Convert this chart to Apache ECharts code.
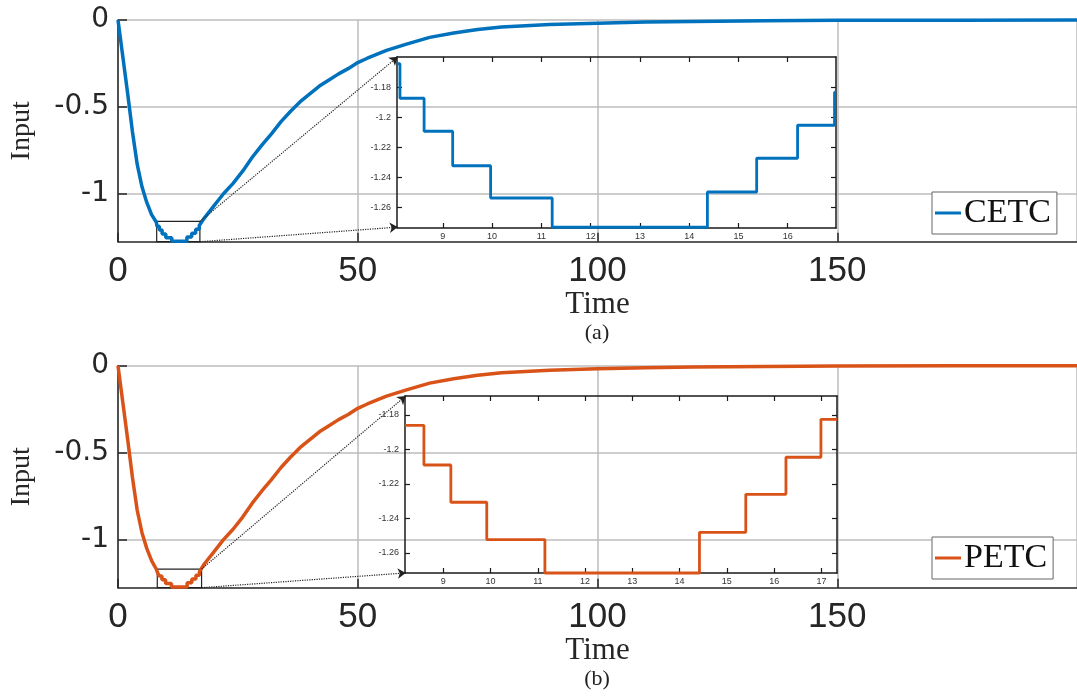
<!DOCTYPE html>
<html>
<head>
<meta charset="utf-8">
<script src="https://cdn.jsdelivr.net/npm/echarts@6/dist/echarts.min.js"></script>
<style>
  html, body { margin: 0; padding: 0; background: #fff; }
  #chart { width: 1077px; height: 696px; }
</style>
</head>
<body>
<div id="chart"></div>
<script>
// main curves (time / input)
const cetcT = [0, 1, 2, 3, 4, 5, 6, 7, 8, 18, 20, 22, 24, 26, 28, 30, 32, 34, 36, 38, 40, 42, 44, 46, 48, 50, 52, 56, 60, 65, 70, 75, 80, 90, 100, 110, 120, 135, 150, 175, 200]
const cetcV = [0, -0.21, -0.42, -0.64, -0.83, -0.96, -1.05, -1.12, -1.164, -1.14, -1.07, -1.0, -0.94, -0.87, -0.79, -0.72, -0.655, -0.585, -0.525, -0.47, -0.425, -0.38, -0.345, -0.31, -0.28, -0.245, -0.22, -0.175, -0.14, -0.1, -0.075, -0.055, -0.04, -0.026, -0.018, -0.012, -0.008, -0.004, -0.002, -0.001, 0]
const petcT = [0, 1, 2, 3, 4, 5, 6, 7, 8, 18, 20, 22, 24, 26, 28, 30, 32, 34, 36, 38, 40, 42, 44, 46, 48, 50, 52, 56, 60, 65, 70, 75, 80, 90, 100, 110, 120, 135, 150, 175, 200]
const petcV = [0, -0.21, -0.42, -0.64, -0.83, -0.96, -1.05, -1.12, -1.17, -1.14, -1.07, -1.0, -0.94, -0.87, -0.79, -0.72, -0.655, -0.585, -0.525, -0.47, -0.425, -0.38, -0.345, -0.31, -0.28, -0.245, -0.22, -0.175, -0.14, -0.1, -0.075, -0.055, -0.04, -0.026, -0.018, -0.012, -0.008, -0.004, -0.002, -0.001, 0]

// held input values around the minimum (switch time / value), shown in the insets
const cetcStepT = [8.07, 8.13, 8.62, 9.2, 9.97, 11.22, 14.37, 15.37, 16.2, 16.95]
const cetcStepV = [-1.164, -1.187, -1.209, -1.232, -1.2535, -1.273, -1.2495, -1.227, -1.205, -1.183]
const petcStepT = [8.19, 8.59, 9.16, 9.92, 11.15, 14.42, 15.4, 16.25, 16.99]
const petcStepV = [-1.186, -1.209, -1.2306, -1.2522, -1.2716, -1.248, -1.226, -1.2045, -1.1825]

// tick labels
const mainYTicks = [-1, -0.5, 0]
const insetXTicksA = [9, 10, 11, 12, 13, 14, 15, 16]
const insetXTicksB = [9, 10, 11, 12, 13, 14, 15, 16, 17]
const insetYTicks = [-1.26, -1.24, -1.22, -1.2, -1.18]

// inset windows [tMin, tMax, vMin, vMax]
const winA = [8.07, 16.98, -1.2735, -1.1595]
const winB = [8.19, 17.33, -1.2716, -1.169]

const blue = '#0072BD'
const orange = '#D95319'
const axisCol = '#262626'
const gridCol = '#bdbdbd'
const serif = 'Liberation Serif, Times New Roman, serif'

function stepPoints(ts, vs, tEnd) {
  const pts = []
  for (let i = 0; i < ts.length; i++) {
    const next = i + 1 < ts.length ? ts[i + 1] : tEnd
    pts.push([ts[i], vs[i]], [next, vs[i]])
  }
  return pts
}

function mainPoints(ts, vs, stT, stV, tEnd) {
  const pts = []
  ts.forEach((t, i) => { if (t < stT[0]) pts.push([t, vs[i]]) })
  stepPoints(stT, stV, tEnd).forEach(p => pts.push(p))
  ts.forEach((t, i) => { if (t > tEnd) pts.push([t, vs[i]]) })
  return pts
}

function mainX(gridIndex, name) {
  return {
    type: 'value', gridIndex, min: 0, max: 200, interval: 50,
    axisLine: { onZero: false, lineStyle: { color: axisCol, width: 1.5 } },
    axisTick: { inside: true, length: 9, lineStyle: { color: axisCol, width: 1.5 } },
    axisLabel: { showMaxLabel: false, fontSize: 35, color: axisCol, margin: 12, fontFamily: 'Liberation Sans, Arial, sans-serif' },
    splitLine: { show: true, lineStyle: { color: gridCol, width: 1.5 } },
    name, nameLocation: 'middle', nameGap: 44,
    nameTextStyle: { fontFamily: serif, fontSize: 31, color: axisCol }
  }
}

function mainY(gridIndex) {
  return {
    type: 'value', gridIndex, min: -1.276, max: 0,
    axisLine: { show: true, onZero: false, lineStyle: { color: axisCol, width: 1.5 } },
    axisTick: { show: true, inside: true, length: 9, customValues: mainYTicks, lineStyle: { color: axisCol, width: 1.5 } },
    axisLabel: { customValues: mainYTicks, fontSize: 28, color: axisCol, margin: 9, fontFamily: 'DejaVu Sans, sans-serif' },
    splitLine: { show: true, lineStyle: { color: gridCol, width: 1.5 } },
    name: 'Input', nameLocation: 'middle', nameGap: 82,
    nameTextStyle: { fontFamily: serif, fontSize: 28, color: axisCol }
  }
}

function insetX(gridIndex, win, ticks, position) {
  const top = position === 'top'
  return {
    type: 'value', gridIndex, position, min: win[0], max: win[1],
    axisLine: { onZero: false, lineStyle: { color: '#1a1a1a', width: 1.5 } },
    axisTick: { inside: true, length: 5, customValues: ticks, lineStyle: { color: '#1a1a1a', width: 1.2 } },
    axisLabel: { show: !top, customValues: ticks, fontSize: 9, color: '#333', margin: 4, fontFamily: 'Liberation Sans, Arial, sans-serif' },
    splitLine: { show: false }
  }
}

function insetY(gridIndex, win, position) {
  const right = position === 'right'
  return {
    type: 'value', gridIndex, position, min: win[2], max: win[3],
    axisLine: { show: true, onZero: false, lineStyle: { color: '#1a1a1a', width: 1.5 } },
    axisTick: { show: true, inside: true, length: 5, customValues: insetYTicks, lineStyle: { color: '#1a1a1a', width: 1.2 } },
    axisLabel: { show: !right, customValues: insetYTicks, fontSize: 9, color: '#333', margin: 6, fontFamily: 'Liberation Sans, Arial, sans-serif' },
    splitLine: { show: false }
  }
}

function zoomMarks(win, tipTop, tipBottom) {
  const dotted = { type: 'dotted', color: '#222', width: 1.2 }
  return {
    markArea: {
      silent: true,
      itemStyle: { color: 'rgba(0,0,0,0)', borderColor: '#222', borderWidth: 1.2 },
      data: [[{ coord: [win[0], win[3]] }, { coord: [win[1] + 0.1, -1.276] }]]
    },
    markLine: {
      silent: true, animation: false,
      symbol: ['none', 'arrow'], symbolSize: 8,
      label: { show: false },
      lineStyle: dotted,
      data: [
        [{ coord: [win[1] + 0.1, win[3]] }, { coord: tipTop }],
        [{ coord: [win[1] + 0.1, -1.276] }, { coord: tipBottom }]
      ]
    }
  }
}

function legendBox(name, top) {
  return {
    data: [name], left: 932, top,
    icon: 'rect', itemWidth: 26, itemHeight: 3, itemGap: 0,
    backgroundColor: '#fff', borderColor: '#666', borderWidth: 1, borderRadius: 0,
    padding: [4, 6, 4, 3],
    textStyle: { fontFamily: serif, fontSize: 34, color: '#111', padding: [0, 0, 0, -2] }
  }
}

const chart = echarts.init(document.getElementById('chart'), null, { renderer: 'canvas' })

chart.setOption({
  animation: false,
  backgroundColor: '#fff',
  grid: [
    { left: 117, top: 20, width: 960, height: 221.7 },
    { left: 397, top: 57, width: 439, height: 171 },
    { left: 117, top: 365.7, width: 960, height: 222 },
    { left: 405, top: 396, width: 432, height: 177 }
  ],
  xAxis: [
    mainX(0, 'Time'),
    insetX(1, winA, insetXTicksA, 'bottom'),
    insetX(1, winA, insetXTicksA, 'top'),
    mainX(2, 'Time'),
    insetX(3, winB, insetXTicksB, 'bottom'),
    insetX(3, winB, insetXTicksB, 'top')
  ],
  yAxis: [
    mainY(0),
    insetY(1, winA, 'left'),
    insetY(1, winA, 'right'),
    mainY(2),
    insetY(3, winB, 'left'),
    insetY(3, winB, 'right')
  ],
  legend: [legendBox('CETC', 192), legendBox('PETC', 537)],
  graphic: [
    { type: 'text', x: 597, y: 322, style: { text: '(a)', textAlign: 'center', font: '22px Liberation Serif', fill: '#222' } },
    { type: 'text', x: 597, y: 668, style: { text: '(b)', textAlign: 'center', font: '22px Liberation Serif', fill: '#222' } }
  ],
  series: [
    Object.assign({
      name: 'CETC', type: 'line', xAxisIndex: 0, yAxisIndex: 0, symbol: 'none', clip: false,
      color: blue, lineStyle: { width: 3.5, color: blue },
      data: mainPoints(cetcT, cetcV, cetcStepT, cetcStepV, winA[1])
    }, zoomMarks(winA, [58.33, -0.212], [58.33, -1.192])),
    {
      type: 'line', xAxisIndex: 1, yAxisIndex: 1, symbol: 'none', clip: false,
      lineStyle: { width: 2.8, color: blue },
      data: stepPoints(cetcStepT, cetcStepV, winA[1])
    },
    Object.assign({
      name: 'PETC', type: 'line', xAxisIndex: 3, yAxisIndex: 3, symbol: 'none', clip: false,
      color: orange, lineStyle: { width: 3.5, color: orange },
      data: mainPoints(petcT, petcV, petcStepT, petcStepV, winB[1])
    }, zoomMarks(winB, [60.0, -0.174], [60.0, -1.191])),
    {
      type: 'line', xAxisIndex: 4, yAxisIndex: 4, symbol: 'none', clip: false,
      lineStyle: { width: 2.8, color: orange },
      data: stepPoints(petcStepT, petcStepV, winB[1])
    }
  ]
})
</script>
</body>
</html>
